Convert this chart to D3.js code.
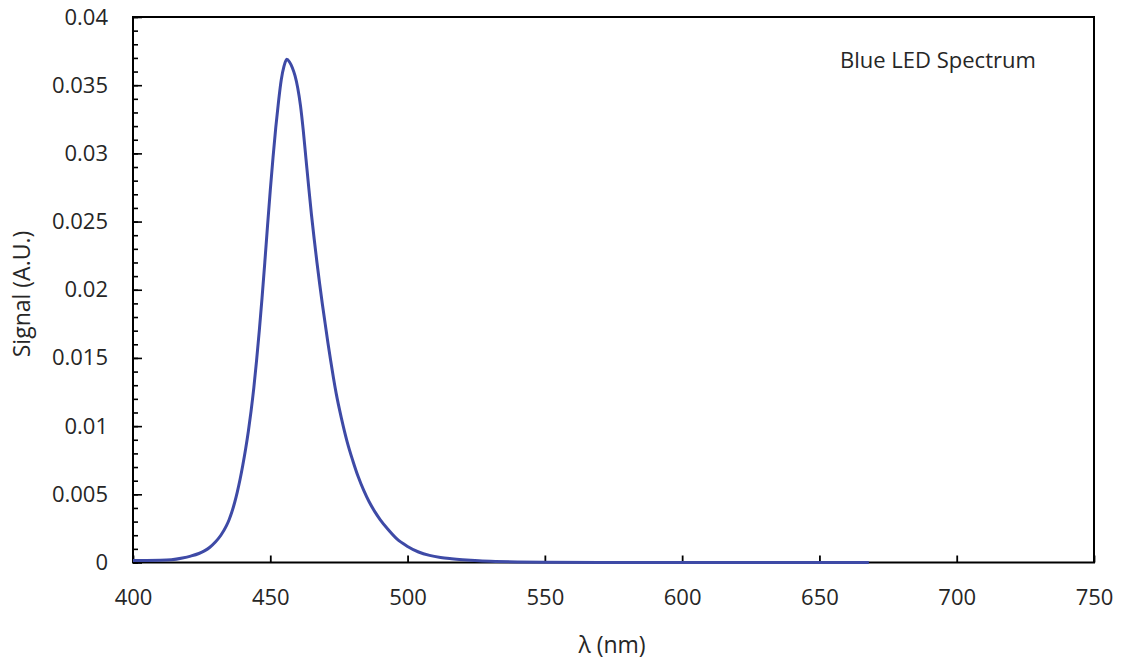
<!DOCTYPE html>
<html>
<head>
<meta charset="utf-8">
<script src="https://cdn.jsdelivr.net/npm/d3@7/dist/d3.min.js"></script>
<style>
  html, body { margin: 0; padding: 0; background: #fff; }
  svg text { font-family: "Open Sans", "Noto Sans", sans-serif; fill: #262626; }
</style>
</head>
<body>
<svg id="chart" width="1123" height="662"></svg>
<script>
// Emission spectrum of a blue LED: wavelength (nm) and signal (A.U.)
const wavelengths = [
  400, 405, 410, 414, 418, 421, 424, 426, 428, 430,
  432, 434, 435, 436, 437, 438, 439, 440, 441, 442,
  443, 444, 445, 446, 447, 448, 449, 450, 451, 452,
  453, 454, 455, 456, 457, 458, 459, 460, 461, 462,
  463, 464, 465, 466, 467, 468, 469, 470, 471, 472,
  473, 474, 476, 478, 480, 482, 484, 486, 488, 490,
  493, 496, 500, 504, 508, 512, 516, 520, 526, 532,
  540, 550, 570, 600, 630, 668
];
const signal = [
  0.00015, 0.00015, 0.00016, 0.00020, 0.00033, 0.00047, 0.00066, 0.00085, 0.00112, 0.00150,
  0.00200, 0.00268, 0.00314, 0.00370, 0.00438, 0.00518, 0.00610, 0.00715, 0.00830, 0.00960,
  0.01110, 0.01280, 0.01480, 0.01700, 0.01940, 0.02200, 0.02470, 0.02730, 0.02970, 0.03190,
  0.03380, 0.03540, 0.03640, 0.03690, 0.03670, 0.03630, 0.03570, 0.03480, 0.03350, 0.03170,
  0.02960, 0.02750, 0.02550, 0.02370, 0.02200, 0.02040, 0.01890, 0.01750, 0.01610, 0.01480,
  0.01355, 0.01240, 0.01050, 0.00885, 0.00750, 0.00630, 0.00530, 0.00445, 0.00375, 0.00315,
  0.00240, 0.00175, 0.00118, 0.00077, 0.00052, 0.00037, 0.00028, 0.00021, 0.00013, 0.00008,
  0.00004, 0.00002, 0.000005, 0, 0, 0
];
const xTicks = [400, 450, 500, 550, 600, 650, 700, 750];
const yTicks = [0, 0.005, 0.01, 0.015, 0.02, 0.025, 0.03, 0.035, 0.04];
const yMinorTicks = d3.range(0, 41).map(i => i / 1000);

const svg = d3.select("#chart");
const plot = { left: 133, right: 1094, top: 17, bottom: 562.5 };

const x = d3.scaleLinear().domain([400, 750]).range([plot.left, plot.right]);
const y = d3.scaleLinear().domain([0, 0.04]).range([plot.bottom, plot.top]);

const yLabel = d => d === 0 ? "0" : String(+d.toFixed(3));

// Minor y ticks (inside the frame)
svg.append("g")
  .attr("transform", `translate(${plot.left},0)`)
  .call(d3.axisRight(y).tickValues(yMinorTicks).tickSize(5).tickFormat(""))
  .call(g => g.select(".domain").remove())
  .call(g => g.selectAll("line").attr("stroke", "#000").attr("stroke-width", 1.6));

// Major y ticks and labels
const yAxis = svg.append("g")
  .attr("transform", `translate(${plot.left},0)`)
  .call(d3.axisLeft(y).tickValues(yTicks).tickSize(0).tickPadding(25).tickFormat(yLabel))
  .call(g => g.select(".domain").remove());
yAxis.selectAll("text").attr("font-size", 22).attr("font-family", "Open Sans").attr("fill", "#262626");
yAxis.selectAll(".tick").append("line")
  .attr("x1", 0).attr("x2", 9).attr("stroke", "#000").attr("stroke-width", 1.6);

// x axis ticks pointing inward, labels below
const xAxis = svg.append("g")
  .attr("transform", `translate(0,${plot.bottom})`)
  .call(d3.axisBottom(x).tickValues(xTicks).tickSize(0).tickPadding(27).tickFormat(d3.format("d")))
  .call(g => g.select(".domain").remove());
xAxis.selectAll("text").attr("font-size", 22).attr("font-family", "Open Sans").attr("fill", "#262626");
xAxis.selectAll(".tick").append("line")
  .attr("y1", 0).attr("y2", -7).attr("stroke", "#000").attr("stroke-width", 1.8);

// Plot frame
svg.append("rect")
  .attr("x", plot.left).attr("y", plot.top)
  .attr("width", plot.right - plot.left).attr("height", plot.bottom - plot.top)
  .attr("fill", "none").attr("stroke", "#000").attr("stroke-width", 2);

// Spectrum curve
const line = d3.line()
  .x((d, i) => x(wavelengths[i]))
  .y(d => y(d))
  .curve(d3.curveMonotoneX);
svg.append("path")
  .datum(signal)
  .attr("d", line)
  .attr("fill", "none")
  .attr("stroke", "#3e4aa6")
  .attr("stroke-width", 3)
  .attr("stroke-linejoin", "round");

// Axis titles
svg.append("text")
  .attr("x", 612).attr("y", 653)
  .attr("text-anchor", "middle")
  .attr("font-size", 23)
  .text("λ (nm)");

svg.append("text")
  .attr("transform", "translate(30,294) rotate(-90)")
  .attr("text-anchor", "middle")
  .attr("font-size", 23)
  .text("Signal (A.U.)");

// Chart label
svg.append("text")
  .attr("x", 840).attr("y", 68)
  .attr("font-size", 22)
  .text("Blue LED Spectrum");
</script>
</body>
</html>
